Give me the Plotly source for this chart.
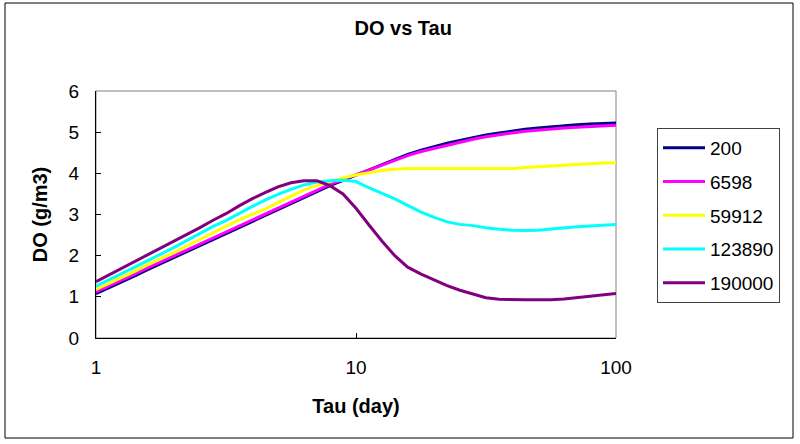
import plotly.graph_objects as go

tau = [1.0, 1.12, 1.26, 1.41, 1.58, 1.78, 2.0, 2.24, 2.51, 2.82, 3.16, 3.55, 3.98, 4.47, 5.01,
       5.62, 6.31, 7.08, 7.94, 8.91, 10.0, 11.2, 12.6, 14.1, 15.8, 17.8, 20.0, 22.4, 25.1, 28.2,
       31.6, 35.5, 39.8, 44.7, 50.1, 56.2, 63.1, 70.8, 79.4, 89.1, 100.0]

do_200 = [1.08, 1.22, 1.36, 1.51, 1.66, 1.81, 1.96, 2.10, 2.25, 2.39, 2.54, 2.68, 2.83, 2.98, 3.13,
          3.27, 3.42, 3.56, 3.70, 3.83, 3.96, 4.09, 4.22, 4.34, 4.46, 4.56, 4.65, 4.73, 4.80, 4.87,
          4.93, 4.98, 5.03, 5.07, 5.10, 5.13, 5.16, 5.18, 5.20, 5.21, 5.22]
do_6598 = [1.12, 1.26, 1.40, 1.55, 1.70, 1.85, 2.00, 2.14, 2.29, 2.43, 2.58, 2.72, 2.87, 3.02, 3.17,
           3.31, 3.46, 3.60, 3.73, 3.85, 3.96, 4.08, 4.20, 4.32, 4.43, 4.53, 4.61, 4.69, 4.76, 4.83,
           4.89, 4.94, 4.98, 5.02, 5.05, 5.08, 5.10, 5.12, 5.14, 5.16, 5.17]
do_59912 = [1.18, 1.32, 1.47, 1.62, 1.78, 1.93, 2.08, 2.24, 2.40, 2.56, 2.72, 2.87, 3.00, 3.13, 3.29,
            3.44, 3.60, 3.70, 3.79, 3.89, 3.96, 4.01, 4.07, 4.10, 4.12, 4.12, 4.12, 4.12, 4.12, 4.12,
            4.12, 4.12, 4.12, 4.14, 4.16, 4.17, 4.19, 4.21, 4.23, 4.25, 4.26]
do_123890 = [1.26, 1.41, 1.56, 1.72, 1.88, 2.04, 2.20, 2.37, 2.54, 2.71, 2.85, 3.03, 3.19, 3.35, 3.49,
             3.61, 3.72, 3.79, 3.82, 3.83, 3.80, 3.65, 3.52, 3.38, 3.22, 3.06, 2.93, 2.82, 2.76, 2.73,
             2.68, 2.64, 2.62, 2.61, 2.62, 2.65, 2.68, 2.70, 2.72, 2.74, 2.76]
do_190000 = [1.37, 1.53, 1.69, 1.86, 2.02, 2.18, 2.35, 2.51, 2.68, 2.86, 3.02, 3.21, 3.38, 3.53, 3.67,
             3.77, 3.82, 3.82, 3.70, 3.50, 3.15, 2.75, 2.35, 2.00, 1.72, 1.55, 1.40, 1.27, 1.16, 1.06,
             0.98, 0.94, 0.93, 0.93, 0.93, 0.93, 0.95, 0.98, 1.02, 1.05, 1.08]

names = ["200", "6598", "59912", "123890", "190000"]
colors = ["#000080", "#FF00FF", "#FFFF00", "#00FFFF", "#800080"]
series = [do_200, do_6598, do_59912, do_123890, do_190000]

FONT = "Liberation Sans, Arial, sans-serif"

fig = go.Figure()
for n, c, s in zip(names, colors, series):
    fig.add_trace(go.Scatter(x=tau, y=s, name=n, mode="lines", legendgroup=n,
                             line=dict(color=c, width=3)))

fig.update_layout(
    width=800, height=444,
    margin=dict(l=96, r=184, t=91, b=106),
    paper_bgcolor="white", plot_bgcolor="white",
    font=dict(family=FONT, size=19, color="black"),
    title=dict(text="<b>DO vs Tau</b>", x=0.504, xanchor="center", y=1 - 28 / 444, yanchor="middle",
               font=dict(size=20)),
    showlegend=True,
    legend=dict(x=(657 - 96) / 520, xanchor="left", y=(338 - 128) / 247, yanchor="top",
                bordercolor="#404040", borderwidth=1, bgcolor="white", itemwidth=42,
                tracegroupgap=6, font=dict(size=19)),
    xaxis=dict(type="log", range=[0, 2], tickvals=[1, 10, 100], ticktext=["1", "10", "100"],
               ticks="inside", ticklen=5, tickcolor="black", showline=True, linecolor="black",
               linewidth=1, showgrid=False, zeroline=False, ticklabelstandoff=12,
               title=dict(text="<b>Tau (day)</b>", font=dict(size=20), standoff=22)),
    yaxis=dict(range=[0, 6], dtick=1, ticks="inside", ticklen=5, tickcolor="black",
               showline=True, linecolor="black", linewidth=1, showgrid=False, zeroline=False,
               ticklabelstandoff=12,
               title=dict(text="<b>DO (g/m3)</b>", font=dict(size=20), standoff=15)),
)

fig.add_shape(type="rect", xref="paper", yref="paper", x0=0, x1=1, y0=0, y1=1,
              line=dict(color="#808080", width=1), layer="below")
fig.add_shape(type="rect", xref="paper", yref="paper",
              x0=(5 - 96) / 520, x1=(793 - 96) / 520, y0=(338 - 438) / 247, y1=(338 - 3) / 247,
              line=dict(color="black", width=1))

fig.write_html("out.html", config={"displayModeBar": False},
               post_script="document.body.style.margin='0';")
